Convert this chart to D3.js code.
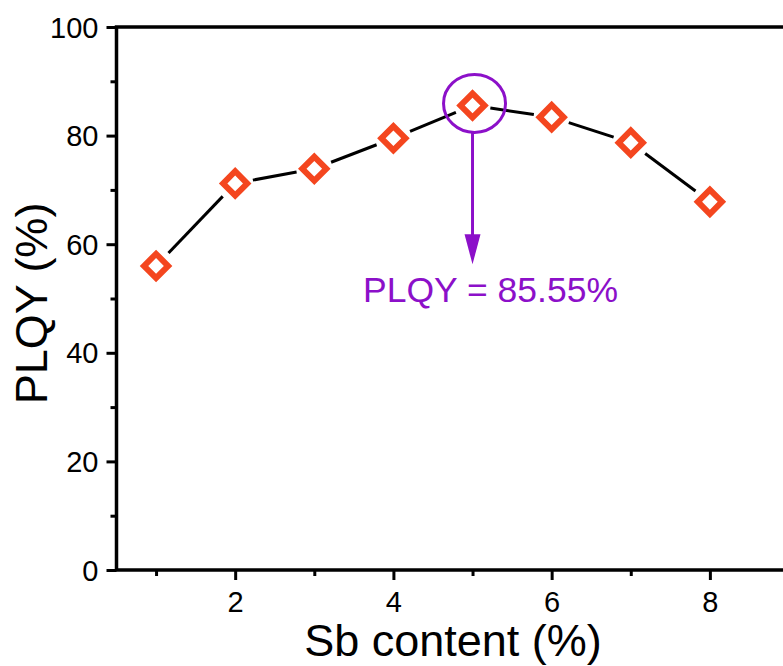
<!DOCTYPE html>
<html>
<head>
<meta charset="utf-8">
<script src="https://cdn.jsdelivr.net/npm/d3@7"></script>
<style>
  body { margin: 0; background: #fff; }
  svg { display: block; font-family: Arial, "Liberation Sans", sans-serif; }
</style>
</head>
<body>
<div id="chart"></div>
<script>
var sbContent = [1, 2, 3, 4, 5, 6, 7, 8];
var plqy = [56.0, 71.2, 73.9, 79.5, 85.55, 83.4, 78.7, 67.8];
var xTicks = [2, 4, 6, 8];
var xMinorTicks = [1, 3, 5, 7];
var yTicks = [0, 20, 40, 60, 80, 100];
var yMinorTicks = [10, 30, 50, 70, 90];
var peakIndex = 4;
var arrowTip = 56.3;

var width = 783, height = 666;
var plotLeft = 116.5, plotRight = 789, plotTop = 27, plotBottom = 570;
var red = "#f4461f", purple = "#8c10c9";

var svg = d3.select("#chart").append("svg")
  .attr("width", width).attr("height", height);

var x = d3.scaleLinear().domain([0.5, 9]).range([plotLeft, plotRight]);
var y = d3.scaleLinear().domain([0, 100]).range([plotBottom, plotTop]);

// axes with outward ticks, Origin style
var drawXAxis = function() {
  var g = svg.append("g").attr("transform", "translate(0," + plotBottom + ")");
  g.call(d3.axisBottom(x).tickValues(xTicks).tickSize(10).tickPadding(11).tickFormat(d3.format("d")));
  g.append("g").call(d3.axisBottom(x).tickValues(xMinorTicks).tickSize(6).tickFormat(""));
  g.selectAll(".domain").remove();
  g.selectAll(".tick line").attr("stroke", "#000").attr("stroke-width", 3);
  g.selectAll("text").attr("font-size", 29).attr("fill", "#000").attr("font-family", "Arial, 'Liberation Sans', sans-serif");
  return g;
};

var drawYAxis = function() {
  var g = svg.append("g").attr("transform", "translate(" + plotLeft + ",0)");
  g.call(d3.axisLeft(y).tickValues(yTicks).tickSize(10).tickPadding(8));
  g.append("g").call(d3.axisLeft(y).tickValues(yMinorTicks).tickSize(6).tickFormat(""));
  g.selectAll(".domain").remove();
  g.selectAll(".tick line").attr("stroke", "#000").attr("stroke-width", 3);
  g.selectAll("text").attr("font-size", 29).attr("fill", "#000").attr("dy", "0.35em").attr("font-family", "Arial, 'Liberation Sans', sans-serif");
  return g;
};

drawXAxis();
drawYAxis();

// frame lines
svg.append("path")
  .attr("d", "M" + plotRight + "," + y(100) + "H" + x(0.5) + "V" + y(0) + "H" + plotRight)
  .attr("fill", "none").attr("stroke", "#000").attr("stroke-width", 3.5)
  .attr("stroke-linecap", "square");

// connecting line, broken around each symbol
var gap = 18;
var segs = d3.pairs(sbContent.map(function(d, i) { return [x(d), y(plqy[i])]; }));
var trim = function(s, k, end) {
  var dx = s[1][0] - s[0][0], dy = s[1][1] - s[0][1], l = Math.hypot(dx, dy);
  var d = [dx, dy][k] / l * gap;
  return end ? s[1][k] - d : s[0][k] + d;
};
svg.append("g").selectAll("line").data(segs).join("line")
  .attr("x1", function(s) { return trim(s, 0, false); })
  .attr("y1", function(s) { return trim(s, 1, false); })
  .attr("x2", function(s) { return trim(s, 0, true); })
  .attr("y2", function(s) { return trim(s, 1, true); })
  .attr("stroke", "#000").attr("stroke-width", 3);

// diamond symbols
svg.append("g").selectAll("path").data(sbContent).join("path")
  .attr("d", d3.symbol(d3.symbolSquare, 290))
  .attr("transform", function(d, i) { return "translate(" + x(d) + "," + y(plqy[i]) + ") rotate(45)"; })
  .attr("fill", "#fff").attr("stroke", red).attr("stroke-width", 6);

// annotation for the peak
var px = x(sbContent[peakIndex]), py = y(plqy[peakIndex]);
var ann = svg.append("g");
ann.append("ellipse")
  .attr("cx", px + 2).attr("cy", py - 2).attr("rx", 31).attr("ry", 29)
  .attr("fill", "none").attr("stroke", purple).attr("stroke-width", 3);
ann.append("line")
  .attr("x1", px).attr("y1", py + 27).attr("x2", px).attr("y2", y(arrowTip) - 20)
  .attr("stroke", purple).attr("stroke-width", 3);
ann.append("path")
  .attr("d", "M" + (px - 8) + "," + (y(arrowTip) - 30) + "L" + (px + 8) + "," + (y(arrowTip) - 30) + "L" + px + "," + y(arrowTip) + "Z")
  .attr("fill", purple);
ann.append("text")
  .attr("x", px + 18).attr("y", y(arrowTip) + 38)
  .attr("text-anchor", "middle").attr("font-size", 35.5).attr("fill", purple)
  .text("PLQY = " + plqy[peakIndex].toFixed(2) + "%");

// axis titles
svg.append("text")
  .attr("x", (x(0.5) + x(8.5)) / 2 + 20).attr("y", 656)
  .attr("text-anchor", "middle").attr("font-size", 45).attr("fill", "#000")
  .text("Sb content (%)");
svg.append("text")
  .attr("transform", "translate(47," + ((y(0) + y(100)) / 2 + 5) + ") rotate(-90)")
  .attr("text-anchor", "middle").attr("font-size", 45).attr("fill", "#000")
  .text("PLQY (%)");
</script>
</body>
</html>
